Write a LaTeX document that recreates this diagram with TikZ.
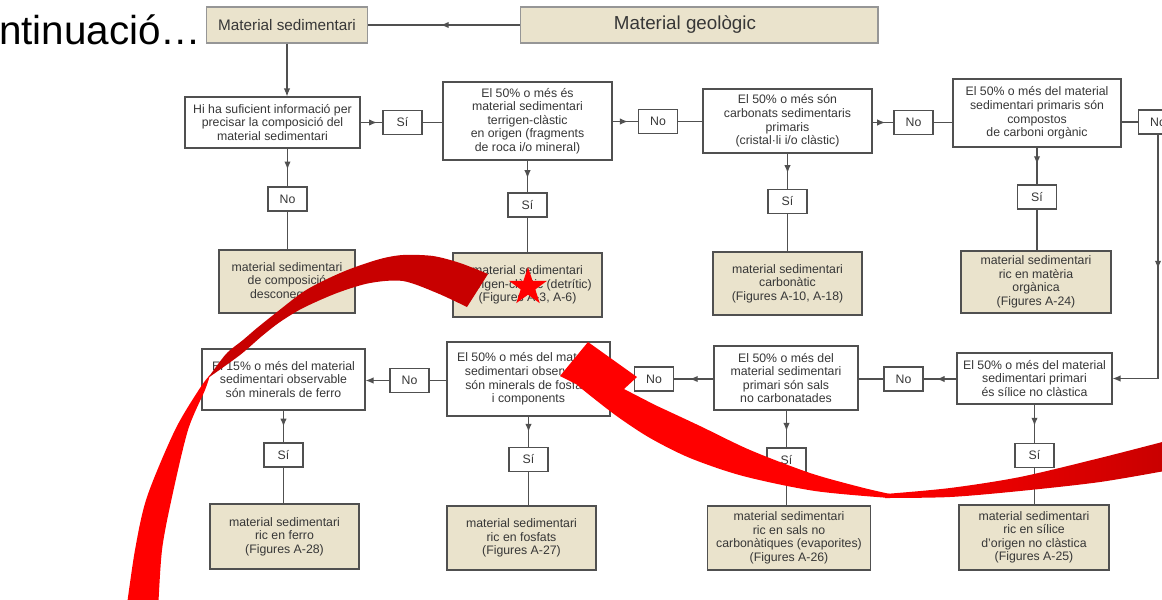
\documentclass[tikz,border=0pt]{standalone}
\usepackage{fontspec}
\setmainfont{Liberation Sans}
\usetikzlibrary{arrows.meta,positioning,calc,shapes.geometric,decorations.markings}

\definecolor{boxbeige}{RGB}{234,227,204}
\definecolor{lineg}{RGB}{80,80,80}
\definecolor{txtg}{RGB}{55,55,55}
\definecolor{arcdark}{RGB}{200,0,0}
\definecolor{arcbright}{RGB}{255,0,0}

\begin{document}
\begin{tikzpicture}[
    x=0.02cm, y=-0.02cm,
    >={Latex[length=4.5pt,width=3.6pt]},
    font=\fontsize{7}{7.7}\selectfont,
    every node/.style={align=center, text=txtg},
    qbox/.style={draw=lineg, line width=0.7pt, fill=white, inner sep=1pt},
    rbox/.style={draw=lineg, line width=0.7pt, fill=boxbeige, inner sep=1pt},
    ynbox/.style={draw=lineg, line width=0.6pt, fill=white, minimum width=0.78cm, minimum height=0.48cm, inner sep=0pt},
    topbox/.style={draw=lineg!60, line width=0.6pt, fill=boxbeige, minimum height=0.72cm},
    link/.style={draw=lineg, line width=0.6pt},
    midarrow/.style={link, postaction={decorate}, decoration={markings, mark=at position #1 with {\arrow{>}}}},
    midarrow/.default=0.6
]

\useasboundingbox (0,0) rectangle (1162,599);
\clip (0,0) rectangle (1162,599);

% -------------------------------------------------
% TITLE (cut off)
% -------------------------------------------------
\node[anchor=base west, font=\fontsize{23}{26}\selectfont, text=black] (cont) at (-7,44) {ntinuació…};

% -------------------------------------------------
% TOP BOXES
% -------------------------------------------------
\node[topbox, minimum width=3.22cm, font=\fontsize{8.7}{10}\selectfont] (sed) at (287,25) {Material sedimentari};
\node[topbox, minimum width=7.16cm, font=\fontsize{10.7}{12}\selectfont] (geo) at (699,25) {Material geològic\hspace{0.56cm}};

% =================================================
% ROW 1 : questions
% =================================================
\node[qbox, minimum width=3.5cm,  minimum height=1.02cm] (q1) at (272.5,122.5) {Hi ha suficient informació per\\precisar la composició del\\material sedimentari};
\node[qbox, minimum width=3.38cm, minimum height=1.56cm] (q2) at (527.5,121) {El 50\% o més és\\material sedimentari\\terrigen-clàstic\\en origen (fragments\\de roca i/o mineral)};
\node[qbox, minimum width=3.38cm, minimum height=1.28cm] (q3) at (787.5,121) {El 50\% o més són\\carbonats sedimentaris\\primaris\\(cristal·li i/o clàstic)};
\node[qbox, minimum width=3.36cm, minimum height=1.36cm] (q4) at (1037,113) {El 50\% o més del material\\sedimentari primaris són\\compostos\\de carboni orgànic};

\node[ynbox] (si1) at (402.5,122.5) {Sí};
\node[ynbox] (no2) at (658,121.5) {No};
\node[ynbox] (no3) at (913.5,122.5) {No};
\node[ynbox] (no4) at (1158,122) {No};

% answers below row 1
\node[ynbox] (no1) at (287.5,199) {No};
\node[ynbox] (si2) at (527.5,205) {Sí};
\node[ynbox] (si3) at (787.5,201.5) {Sí};
\node[ynbox] (si4) at (1037,197) {Sí};

\node[rbox, minimum width=2.72cm, minimum height=1.26cm] (r1) at (287,281.5) {material sedimentari\\de composició\\desconeguda};
\node[rbox, minimum width=2.98cm, minimum height=1.28cm] (r2) at (527.5,285) {material sedimentari\\terrigen-clàstic (detrític)\\(Figures A-3, A-6)};
\node[rbox, minimum width=2.98cm, minimum height=1.26cm] (r3) at (787.5,283.5) {material sedimentari\\carbonàtic\\(Figures A-10, A-18)};
\node[rbox, minimum width=3.0cm,  minimum height=1.24cm] (r4) at (1036,282) {material sedimentari\\ric en matèria\\orgànica\\(Figures A-24)};

% =================================================
% ROW 2 : questions
% =================================================
\node[qbox, minimum width=3.1cm,  minimum height=1.02cm] (q5) at (1034.5,378.5) {El 50\% o més del material\\sedimentari primari\\és sílice no clàstica};
\node[qbox, minimum width=2.88cm, minimum height=1.28cm] (q6) at (786,378) {El 50\% o més del\\material sedimentari\\primari són sals\\no carbonatades};
\node[qbox, minimum width=3.26cm, minimum height=1.48cm] (q7) at (528.5,379) {El 50\% o més del material\\sedimentari observable\\són minerals de fosfats\\i components};
\node[qbox, minimum width=3.26cm, minimum height=1.22cm] (q8) at (283.5,379.5) {El 15\% o més del material\\sedimentari observable\\són minerals de ferro};

\node[ynbox] (no5) at (903.5,379) {No};
\node[ynbox] (no6) at (654,379) {No};
\node[ynbox] (no7) at (409.5,380.5) {No};

\node[ynbox] (si5) at (1034.5,455.5) {Sí};
\node[ynbox] (si6) at (786.5,460) {Sí};
\node[ynbox] (si7) at (528.5,459.5) {Sí};
\node[ynbox] (si8) at (283.5,455) {Sí};

\node[rbox, minimum width=3.0cm,  minimum height=1.3cm] (r5) at (1034,537.5) {material sedimentari\\ric en sílice\\d'origen no clàstica\\(Figures A-25)};
\node[rbox, minimum width=3.26cm, minimum height=1.28cm] (r6) at (789,538) {material sedimentari\\ric en sals no\\carbonàtiques (evaporites)\\(Figures A-26)};
\node[rbox, minimum width=2.98cm, minimum height=1.28cm] (r7) at (521.5,538) {material sedimentari\\ric en fosfats\\(Figures A-27)};
\node[rbox, minimum width=2.98cm, minimum height=1.3cm] (r8) at (284.5,536.5) {material sedimentari\\ric en ferro\\(Figures A-28)};

% -------------------------------------------------
% CONNECTORS
% -------------------------------------------------
\draw[midarrow=0.52] (geo.west) -- (sed.east);
\draw[link,->] (sed.south) -- (q1.north -| sed.south);

% row 1, left to right
\draw[midarrow=0.75] (q1.east |- si1) -- (si1.west);
\draw[link] (si1.east) -- (si1.east -| q2.west);
\draw[midarrow] (q2.east |- no2) -- (no2.west);
\draw[link] (no2.east) -- (no2.east -| q3.west);
\draw[midarrow] (q3.east |- no3) -- (no3.west);
\draw[link] (no3.east) -- (no3.east -| q4.west);
\draw[link] (q4.east |- no4) -- (no4.west);

% down the right side
\coordinate (bend) at (no4.south |- q5.east);
\draw[midarrow=0.55] (no4.south) -- (bend);
\draw[link,->] (bend) -- (q5.east);

% row 1, downwards
\draw[midarrow=0.55] (q1.south -| no1.north) -- (no1.north);
\draw[link] (no1.south) -- (no1.south |- r1.north);
\draw[midarrow=0.55] (q2.south) -- (si2.north);
\draw[link] (si2.south) -- (si2.south |- r2.north);
\draw[midarrow=0.55] (q3.south) -- (si3.north);
\draw[link] (si3.south) -- (si3.south |- r3.north);
\draw[midarrow=0.45] (q4.south -| si4.north) -- (si4.north);
\draw[link] (si4.south) -- (si4.south |- r4.north);

% row 2, right to left
\draw[midarrow] (q5.west |- no5) -- (no5.east);
\draw[link] (no5.west) -- (no5.west -| q6.east);
\draw[midarrow] (q6.west |- no6) -- (no6.east);
\draw[link] (no6.west) -- (no6.west -| q7.east);
\draw[link] (q7.west |- no7) -- (no7.east);
\draw[link,->] (no7.west) -- (no7.west -| q8.east);

% row 2, downwards
\draw[midarrow=0.55] (q5.south -| si5.north) -- (si5.north);
\draw[link] (si5.south) -- (si5.south |- r5.north);
\draw[midarrow=0.55] (q6.south -| si6.north) -- (si6.north);
\draw[link] (si6.south) -- (si6.south |- r6.north);
\draw[midarrow=0.5] (q7.south -| si7.north) -- (si7.north);
\draw[link] (si7.south) -- (si7.south |- r7.north);
\draw[midarrow=0.5] (q8.south -| si8.north) -- (si8.north);
\draw[link] (si8.south) -- (si8.south |- r8.north);

% =================================================
% RED MARKS ON TOP
% =================================================

% left curved band, dark part
\fill[arcdark]
    plot[smooth] coordinates {(208,378) (226,354) (243,340) (257,328) (277,312) (303,292)
        (325,280) (350,269) (380,259) (403,255) (433,256) (460,263) (488,274)}
    -- plot[smooth] coordinates {(467,307) (437,293) (403,281) (370,283) (337,293)
        (303,308) (280,322) (262,336) (240,355) (208,378)} -- cycle;

% left curved band, bright part
\fill[arcbright]
    plot[smooth] coordinates {(210,375) (200,388) (175,430) (147,497) (135,550) (126,612)}
    -- plot[smooth] coordinates {(158,612) (162,550) (172,497) (188,430) (205,390) (210,375)}
    -- cycle;

% right curved arrow, shaded tail
\shade[left color=arcbright, right color=arcdark]
    plot[smooth] coordinates {(885,494) (950,488) (1020,477) (1100,458) (1170,440)}
    -- plot[smooth] coordinates {(1170,470) (1100,482) (1020,491) (950,497) (885,498)} -- cycle;

% right curved arrow, head and shaft
\fill[arcbright] (588,342) -- (637,377) -- (624,389)
    -- plot[smooth] coordinates {(655,405) (700,426) (750,450) (810,473) (860,487) (890,494)}
    -- plot[smooth] coordinates {(890,498) (815,491) (743,476) (690,458) (650,438) (618,417) (592,397) (576,384)}
    -- (560,376) -- cycle;

% star
\node[star, star points=5, star point ratio=2.6, fill=arcbright, minimum size=0.8cm, inner sep=0pt] (redstar) at (528,287) {};

\end{tikzpicture}
\end{document}
